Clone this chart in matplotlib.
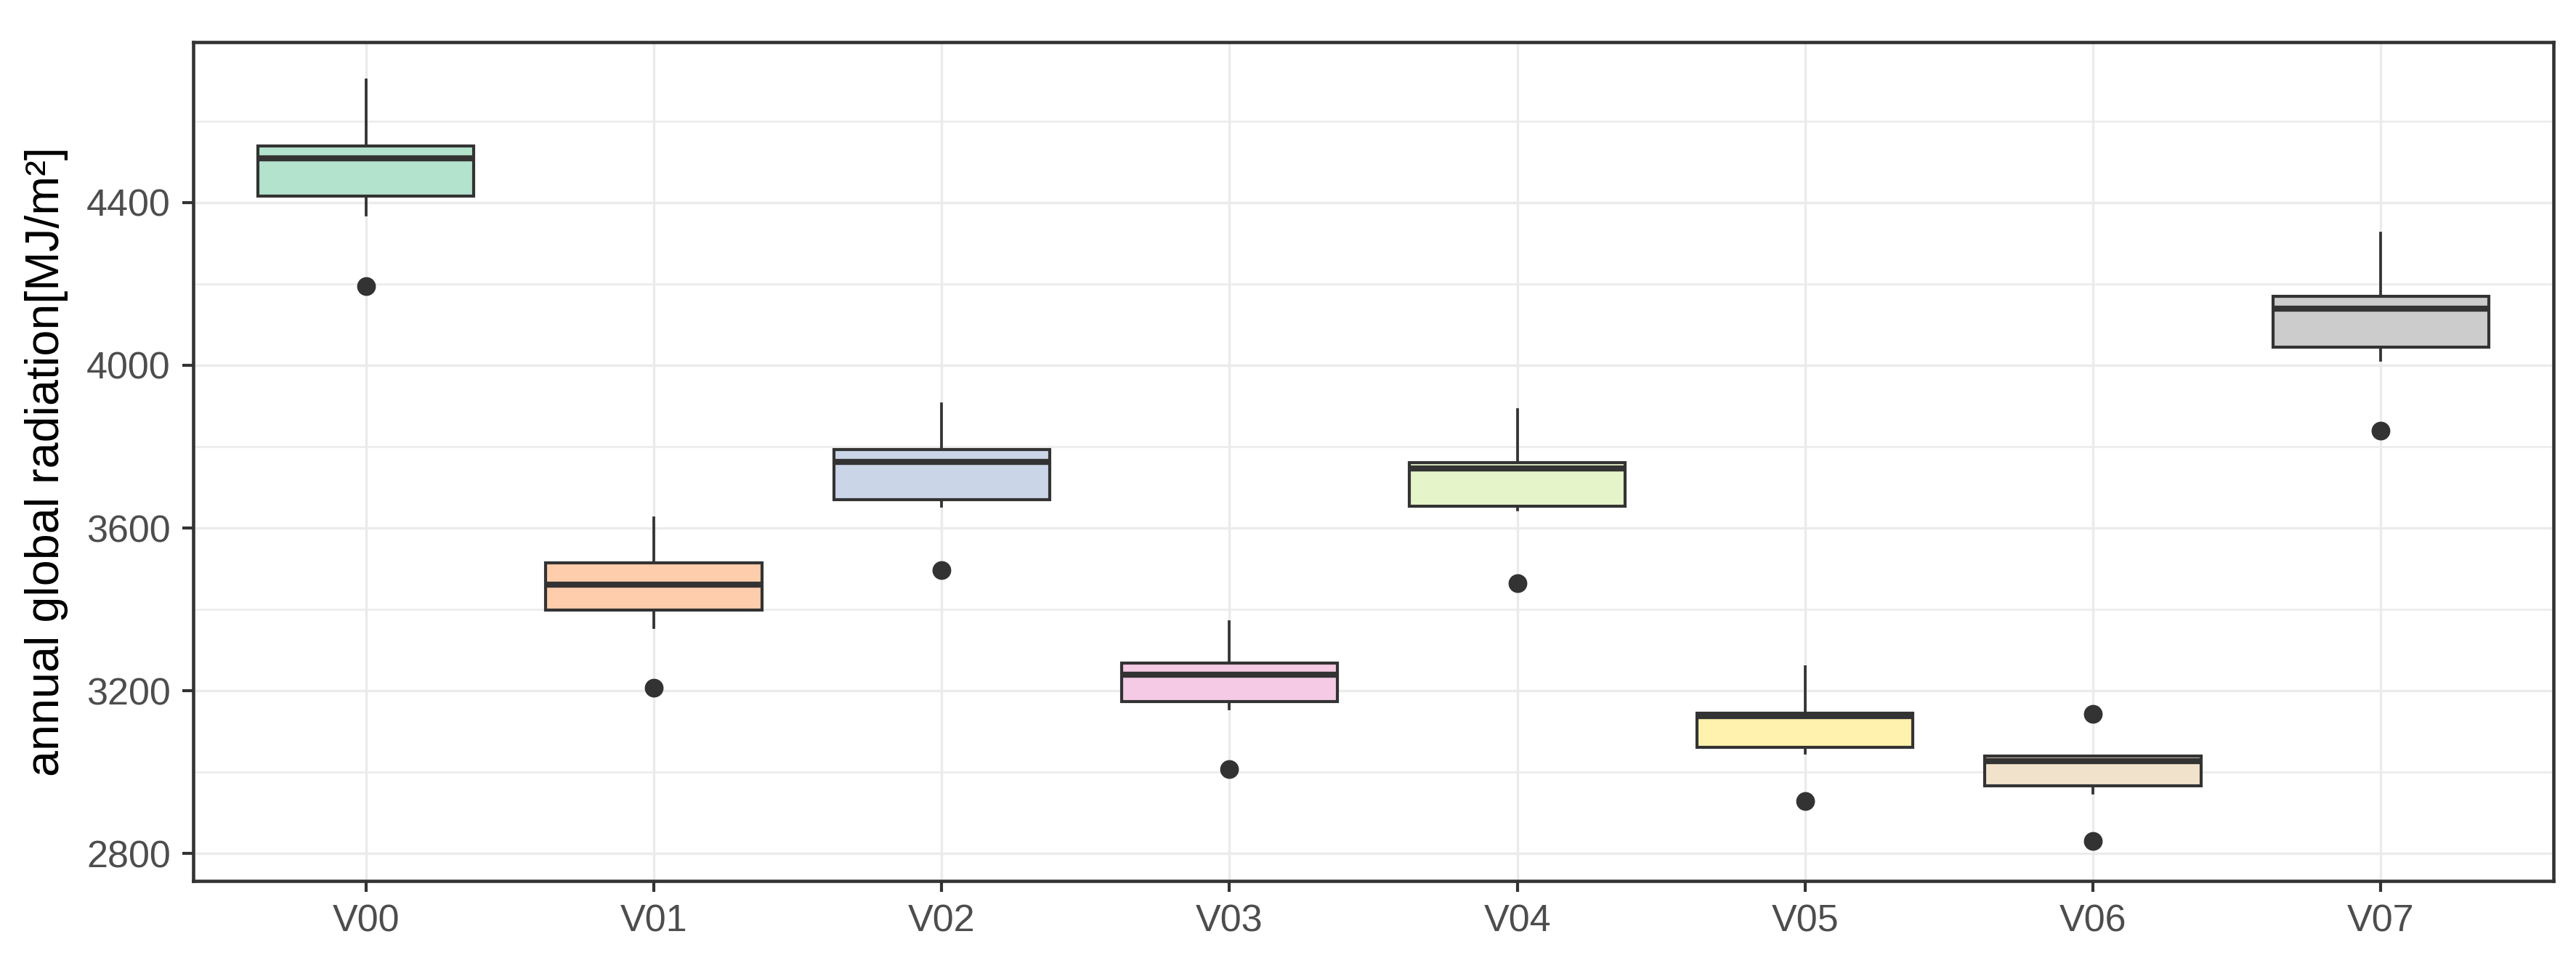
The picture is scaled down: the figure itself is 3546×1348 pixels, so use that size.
"""Boxplots of annual global radiation per variant (V00-V07)."""

import matplotlib

matplotlib.use("Agg")
import matplotlib.pyplot as plt
import numpy as np
from matplotlib.ticker import FixedLocator

plt.rcParams["font.family"] = ["Liberation Sans", "DejaVu Sans"]

CATEGORIES = ["V00", "V01", "V02", "V03", "V04", "V05", "V06", "V07"]
WHISKER_LOW = [4370, 3356, 3653, 3156, 3645, 3047, 2949, 4012]
Q1 = [4415, 3398, 3670, 3174, 3654, 3062, 2967, 4044]
MEDIAN = [4508, 3461, 3763, 3239, 3746, 3138, 3028, 4139]
Q3 = [4539, 3514, 3793, 3268, 3761, 3145, 3040, 4170]
WHISKER_HIGH = [4702, 3626, 3906, 3370, 3891, 3259, 3040, 4324]
OUTLIERS = [[4195], [3208], [3497], [3007], [3464], [2929], [3143, 2831], [3840]]

# RColorBrewer Pastel2
FILLS = ["#B3E2CD", "#FDCDAC", "#CBD5E8", "#F4CAE4",
         "#E6F5C9", "#FFF2AE", "#F1E2CC", "#CCCCCC"]

DARK = "#333333"
GRID = "#EBEBEB"


def main() -> None:
    fig = plt.figure(figsize=(3546 / 300, 1348 / 300), dpi=300)
    ax = fig.add_axes([266 / 3546, 1 - 1213 / 1348,
                       (3515 - 266) / 3546, (1213 - 58) / 1348])

    stats = []
    for i, name in enumerate(CATEGORIES):
        stats.append(dict(
            label=name,
            whislo=WHISKER_LOW[i], q1=Q1[i], med=MEDIAN[i],
            q3=Q3[i], whishi=WHISKER_HIGH[i], fliers=OUTLIERS[i],
        ))

    positions = np.arange(1, len(CATEGORIES) + 1)
    parts = ax.bxp(
        stats,
        positions=positions,
        widths=0.75,
        patch_artist=True,
        showcaps=False,
        boxprops=dict(edgecolor=DARK, linewidth=1.0),
        medianprops=dict(color=DARK, linewidth=2.0, solid_capstyle="butt"),
        whiskerprops=dict(color=DARK, linewidth=0.9),
        flierprops=dict(marker="o", markersize=5.2, markerfacecolor=DARK,
                        markeredgecolor=DARK, linestyle="none"),
        zorder=3,
    )
    for box, color in zip(parts["boxes"], FILLS):
        box.set_facecolor(color)

    ax.set_xlim(0.4, len(CATEGORIES) + 0.6)
    ax.set_ylim(2733, 4794)
    ax.yaxis.set_major_locator(FixedLocator([2800, 3200, 3600, 4000, 4400]))
    ax.yaxis.set_minor_locator(FixedLocator([3000, 3400, 3800, 4200, 4600]))
    ax.set_xticks(positions)
    ax.set_xticklabels(CATEGORIES)

    ax.set_axisbelow(True)
    ax.grid(which="major", color=GRID, linewidth=0.8)
    ax.grid(which="minor", axis="y", color=GRID, linewidth=0.6)

    for spine in ax.spines.values():
        spine.set_color(DARK)
        spine.set_linewidth(1.1)

    ax.tick_params(which="major", length=3.5, width=1.0, color=DARK,
                   labelsize=12.5, labelcolor="#4D4D4D", pad=4)
    ax.tick_params(which="minor", length=0)

    ax.set_ylabel("annual global radiation[MJ/m²]", fontsize=15.5,
                  color="black", labelpad=6)

    fig.savefig("out.png", dpi=300, facecolor="white")
    plt.close(fig)


if __name__ == "__main__":
    main()
